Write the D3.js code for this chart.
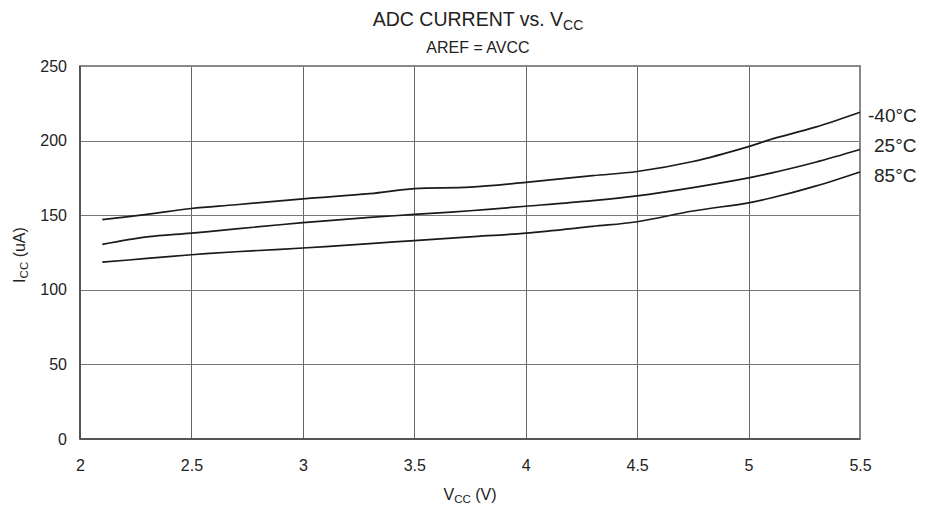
<!DOCTYPE html>
<html>
<head>
<meta charset="utf-8">
<script src="https://cdn.jsdelivr.net/npm/d3@7"></script>
<style>
  body { margin: 0; background: #fff; }
  svg { display: block; font-family: "Liberation Sans", Arial, sans-serif; }
  .tick text { font-size: 16px; fill: #222; }
</style>
</head>
<body>
<svg id="chart" width="935" height="510"></svg>
<script>
// supply voltage sample points (V)
const vcc = [2.1, 2.3, 2.5, 2.7, 3.0, 3.3, 3.5, 3.75, 4.0, 4.3, 4.5, 4.75, 5.0, 5.1, 5.3, 5.5];
// ADC current (uA) per temperature
const iMinus40 = [147, 150.5, 154.5, 157, 161, 164.5, 167.8, 168.8, 172, 176.5, 179.3, 186, 196, 200.8, 209, 219];
const i25      = [130.5, 135.5, 138, 140.8, 145, 148.5, 150.5, 153, 156, 159.8, 163, 168.5, 175, 178.2, 185.5, 194];
const i85      = [118.5, 121, 123.5, 125.5, 128, 131, 133, 135.5, 138, 142.5, 145.6, 152.8, 158.3, 161.5, 169.5, 179];
const seriesNames = ['-40°C', '25°C', '85°C'];
const xTicks = [2, 2.5, 3, 3.5, 4, 4.5, 5, 5.5];
const yTicks = [0, 50, 100, 150, 200, 250];

const W = 935, H = 510;
const M = { top: 66, right: 75, bottom: 71, left: 80 };

const svg = d3.select('#chart');
const x = d3.scaleLinear().domain([2, 5.5]).range([M.left, W - M.right]);
const y = d3.scaleLinear().domain([0, 250]).range([H - M.bottom, M.top]);

// grid
const grid = svg.append('g');
grid.selectAll('line.v').data(xTicks.slice(1, -1)).join('line')
  .attr('x1', d => Math.round(x(d)) + 0.5).attr('x2', d => Math.round(x(d)) + 0.5)
  .attr('y1', M.top).attr('y2', H - M.bottom)
  .attr('stroke', '#666').attr('stroke-width', 1);
grid.selectAll('line.h').data(yTicks.slice(1, -1)).join('line')
  .attr('x1', M.left).attr('x2', W - M.right)
  .attr('y1', d => Math.round(y(d)) + 0.5).attr('y2', d => Math.round(y(d)) + 0.5)
  .attr('stroke', '#777').attr('stroke-width', 1);

// frame
svg.append('rect')
  .attr('x', M.left).attr('y', M.top)
  .attr('width', W - M.left - M.right).attr('height', H - M.top - M.bottom)
  .attr('fill', 'none').attr('stroke', '#888').attr('stroke-width', 2);
svg.append('line')
  .attr('x1', M.left).attr('x2', W - M.right)
  .attr('y1', H - M.bottom).attr('y2', H - M.bottom)
  .attr('stroke', '#555').attr('stroke-width', 2);
svg.append('line')
  .attr('x1', M.left).attr('x2', M.left)
  .attr('y1', M.top).attr('y2', H - M.bottom)
  .attr('stroke', '#555').attr('stroke-width', 2);

// axes (labels only)
const xAxis = svg.append('g')
  .attr('transform', `translate(0,${H - M.bottom})`)
  .call(d3.axisBottom(x).tickValues(xTicks).tickSize(0).tickPadding(21).tickFormat(d3.format('~g')));
xAxis.select('.domain').remove();

const yAxis = svg.append('g')
  .attr('transform', `translate(${M.left},0)`)
  .call(d3.axisLeft(y).tickValues(yTicks).tickSize(0).tickPadding(13));
yAxis.select('.domain').remove();
svg.selectAll('.tick text').style('font-size', '16px').attr('fill', '#222');

// curves
const line = d3.line()
  .x((d, i) => x(vcc[i]))
  .y(d => y(d))
  .curve(d3.curveCatmullRom.alpha(0.5));

const allSeries = [iMinus40, i25, i85];
svg.append('g').selectAll('path').data(allSeries).join('path')
  .attr('d', line)
  .attr('fill', 'none')
  .attr('stroke', '#1a1a1a')
  .attr('stroke-width', 1.7);

// series labels at right end
svg.append('g').selectAll('text').data(seriesNames).join('text')
  .attr('x', (d, i) => i === 0 ? 868 : 874)
  .attr('y', (d, i) => [115, 145, 175][i])
  .attr('dy', '0.35em')
  .attr('font-size', 19)
  .attr('fill', '#222')
  .text(d => d);

// title
const title = svg.append('text')
  .attr('x', 478).attr('y', 26)
  .attr('text-anchor', 'middle')
  .attr('font-size', 19.5).attr('fill', '#222');
title.append('tspan').text('ADC CURRENT vs. V');
title.append('tspan').attr('font-size', 14).attr('dy', 4).text('CC');

svg.append('text')
  .attr('x', 478).attr('y', 52.5)
  .attr('text-anchor', 'middle')
  .attr('font-size', 16).attr('fill', '#222')
  .text('AREF = AVCC');

// x label
const xl = svg.append('text')
  .attr('x', 470).attr('y', 500)
  .attr('text-anchor', 'middle')
  .attr('font-size', 16).attr('fill', '#222');
xl.append('tspan').text('V');
xl.append('tspan').attr('font-size', 11.5).attr('dy', 3).text('CC');
xl.append('tspan').attr('dy', -3).text(' (V)');

// y label
const yl = svg.append('text')
  .attr('transform', 'translate(25,255) rotate(-90)')
  .attr('text-anchor', 'middle')
  .attr('font-size', 16).attr('fill', '#222');
yl.append('tspan').text('I');
yl.append('tspan').attr('font-size', 11.5).attr('dy', 3).text('CC');
yl.append('tspan').attr('dy', -3).text(' (uA)');
</script>
</body>
</html>
